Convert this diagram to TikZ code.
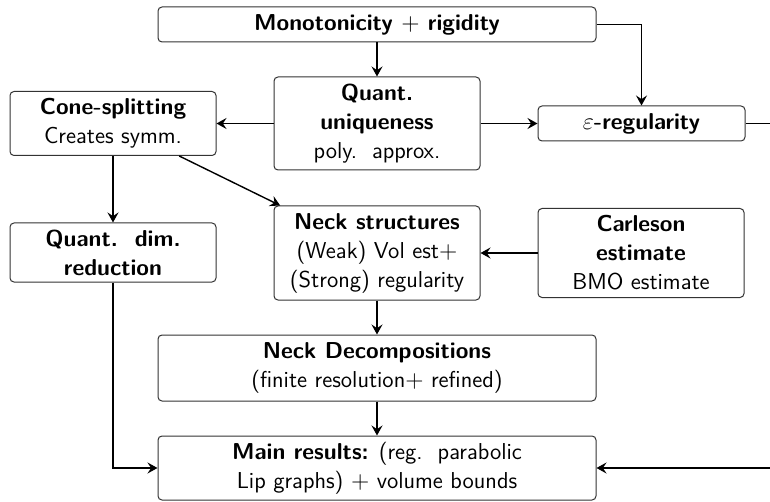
\documentclass[tikz,border=0pt]{standalone}
\usetikzlibrary{arrows.meta}
\begin{document}
\begin{tikzpicture}[x=0.5pt,y=-0.5pt,
  box/.style={draw=black!80,line width=0.5pt,rounded corners=2pt,align=center,
    inner sep=1pt,font=\sffamily\fontsize{11.5}{14.5}\selectfont},
  arr/.style={line width=0.7pt,-{Stealth[length=5pt,width=5.5pt,inset=1.8pt]}},
  link/.style={line width=0.7pt}]
\useasboundingbox (0,0) rectangle (770,502);

% first row
\node[box,minimum width=219pt,minimum height=17.5pt] (top) at (377,24.5)
  {\textbf{Monotonicity $+$ rigidity}};
\node[box,minimum width=103pt,minimum height=46.5pt] (qu) at (377,123.5)
  {\textbf{Quant.}\\\textbf{uniqueness}\\poly.\ \ approx.};
\node[box,minimum width=103pt,minimum height=32pt] (cone) at (113,123.5)
  {\textbf{Cone-splitting}\\Creates symm.};
\node[box,minimum width=103.5pt,minimum height=17.5pt] (eps) at (641.5,123.5)
  {$\varepsilon$\textbf{-regularity}};

% second row
\node[box,minimum width=103pt,minimum height=29.5pt] (qdr) at (113,252.5)
  {\textbf{Quant.\ \ dim.}\\\textbf{reduction}};
\node[box,minimum width=103pt,minimum height=47pt] (neck) at (377,253)
  {\textbf{Neck structures}\\(Weak) Vol est$+$\\(Strong) regularity};
\node[box,minimum width=103pt,minimum height=44.5pt] (carl) at (641,253)
  {\textbf{Carleson}\\\textbf{estimate}\\BMO estimate};

% lower rows
\node[box,minimum width=219pt,minimum height=33pt] (nd) at (377,368)
  {\textbf{Neck Decompositions}\\(finite resolution$+$ refined)};
\node[box,minimum width=219pt,minimum height=32pt] (main) at (377,468)
  {\textbf{Main results:} (reg.\ \ parabolic\\Lip graphs) $+$ volume bounds};

\coordinate (outR) at (770,123.5);
\coordinate (inR) at (770,468);

% connectors
\draw[arr] (top) -- (qu);
\draw[arr] (top.east) -| (eps.north);
\draw[arr] (qu) -- (cone);
\draw[arr] (qu) -- (eps);
\draw[link] (eps.east) -- (outR);
\draw[arr] (cone) -- (qdr);
\draw[arr] (cone) -- (neck);
\draw[arr] (carl) -- (neck);
\draw[arr] (neck) -- (nd);
\draw[arr] (nd) -- (main);
\draw[arr] (qdr.south) |- (main.west);
\draw[arr] (inR) -- (main.east);
\end{tikzpicture}
\end{document}
